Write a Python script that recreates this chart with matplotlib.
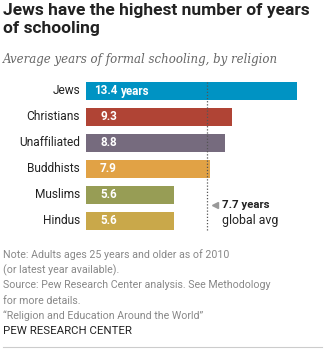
import matplotlib
matplotlib.use("Agg")
import matplotlib.pyplot as plt

W, H = 332, 354
DPI = 100

categories = ["Jews", "Christians", "Unaffiliated", "Buddhists", "Muslims", "Hindus"]
values = [13.4, 9.3, 8.8, 7.9, 5.6, 5.6]
value_labels = ["13.4", "9.3", "8.8", "7.9", "5.6", "5.6"]
colors = ["#0093c3", "#b04435", "#766b7e", "#e1a245", "#979d55", "#c9a84a"]
global_avg = 7.7

title = "Jews have the highest number of years\nof schooling"
subtitle = "Average years of formal schooling, by religion"
notes = ["Note: Adults ages 25 years and older as of 2010",
         "(or latest year available).",
         "Source: Pew Research Center analysis. See Methodology",
         "for more details.",
         "\u201cReligion and Education Around the World\u201d"]
source = "PEW RESEARCH CENTER"

fig = plt.figure(figsize=(W / DPI, H / DPI), dpi=DPI)
fig.patch.set_facecolor("white")

def fx(x):
    return x / W

def fy(y):
    return 1 - y / H

left, right, top, bottom = 86, 297, 78, 234
ax = fig.add_axes([fx(left), fy(bottom), (right - left) / W, (bottom - top) / H])
ax.set_xlim(0, values[0])
ax.set_ylim(len(categories) - 0.5, -0.5)
ax.axis("off")

ypos = list(range(len(categories)))
ax.barh(ypos, values, height=0.73, color=colors, left=0)

px_per_unit = (right - left) / values[0]
for i, (c, v, lab) in enumerate(zip(categories, values, value_labels)):
    ax.text(-6 / px_per_unit, i, c, ha="right", va="center", fontsize=8.6,
            family="Roboto", color="#222222")
    ax.text((117 - left) / px_per_unit, i, lab, ha="right", va="center",
            fontsize=8.4, family="Roboto", fontweight="bold", color="white")
ax.text((120.5 - left) / px_per_unit, 0, "years", ha="left", va="center",
        fontsize=8.4, family="Roboto", fontweight="bold", color="white")

ax.axvline(global_avg, ymin=0.026, ymax=0.976, color="#555555",
           linestyle=(0, (1, 1.5)), linewidth=0.9)

ax.plot([(215 - left) / px_per_unit], [4.38], marker="<", color="#999999",
        markersize=4.5, clip_on=False)
ax.text((221.5 - left) / px_per_unit, 4.38, "7.7 years", ha="left", va="center",
        fontsize=8.2, family="Roboto", fontweight="bold", color="#222222")
ax.text((221.5 - left) / px_per_unit, 4.98, "global avg", ha="left", va="center",
        fontsize=8.9, family="Roboto", color="#222222")

fig.text(fx(3), fy(3.5), title, ha="left", va="top", fontsize=12.5,
         family="Roboto", fontweight="bold", color="#222222", linespacing=1.22)
fig.text(fx(3), fy(60), subtitle, ha="left", va="center", fontsize=8.5,
         family="DejaVu Serif", style="italic", color="#666666")

for k, line in enumerate(notes):
    fig.text(fx(3), fy(255 + k * 15.2), line, ha="left", va="center",
             fontsize=7.7, family="Roboto", color="#888888")
fig.text(fx(3), fy(331), source, ha="left", va="center", fontsize=8.2,
         family="Roboto", color="#222222")

fig.add_artist(plt.Line2D([fx(3), fx(322)], [fy(347), fy(347)],
                          color="#cccccc", linewidth=0.8))

fig.savefig("out.png", dpi=DPI, facecolor="white")
